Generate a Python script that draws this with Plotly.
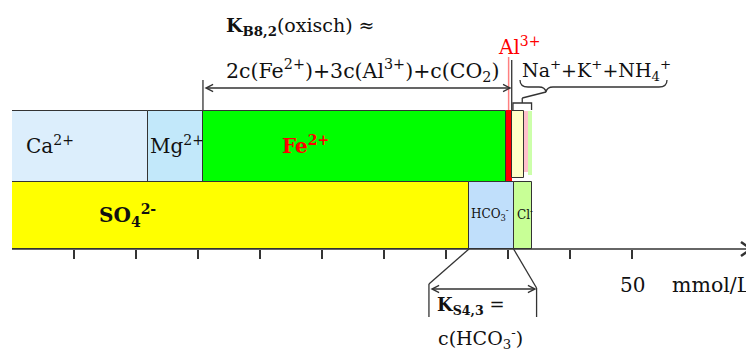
import plotly.graph_objects as go

# ---------------- data (mmol/L) ----------------
cation_names = ["Ca2+", "Mg2+", "Fe2+", "Al3+", "Na+", "K+", "NH4+"]
cation_values = [11.0, 4.4, 24.4, 0.5, 1.0, 0.3, 0.3]
anion_names = ["SO42-", "HCO3-", "Cl-"]
anion_values = [36.85, 3.6, 1.5]
tick_values = [5, 10, 15, 20, 25, 30, 35, 40, 45, 50]
tick_label_value = 50
unit_label = "mmol/L"

# ---------------- styling ----------------
PAGE_W, PAGE_H = 754, 351
OFF = 8                      # default body margin of the html page
W, H = PAGE_W - OFF, PAGE_H - OFF
X0_PX = 12.0
PX_PER = 12.4
FONT = "DejaVu Serif"
DARK = "#333333"

def d(px):
    """page pixel -> data x"""
    return (px - X0_PX) / PX_PER

cation_colors = ["#DCEEFC", "#C2E8FA", "#00FF00", "#FF0000", "#FFFFC8", "#FFC0CB", "#CCFFAA"]
cation_outline = [1, 1, 1, 0, 1, 0, 0]
CAT_ROW = (146.25, 70.5)
cation_geom = [CAT_ROW, CAT_ROW, CAT_ROW, (147.0, 74.0), (144.5, 67.0), (141.5, 61.0), (143.0, 64.0)]
anion_colors = ["#FFFF00", "#C0DFFB", "#C8FF96"]
AN_ROW = (215.25, 67.5)

fig = go.Figure()

cum = 0.0
cat_ends = []
for name, val, col, ol, (yc, hh) in zip(cation_names, cation_values, cation_colors, cation_outline, cation_geom):
    fig.add_trace(go.Bar(orientation="h", x=[val], base=[cum], y=[yc], width=[hh],
                         marker=dict(color=col, line=dict(color=DARK, width=ol)),
                         name=name, showlegend=False, hoverinfo="skip"))
    cum += val
    cat_ends.append(cum)

cum = 0.0
an_ends = []
for name, val, col in zip(anion_names, anion_values, anion_colors):
    fig.add_trace(go.Bar(orientation="h", x=[val], base=[cum], y=[AN_ROW[0]], width=[AN_ROW[1]],
                         marker=dict(color=col, line=dict(color=DARK, width=1)),
                         name=name, showlegend=False, hoverinfo="skip"))
    cum += val
    an_ends.append(cum)

shapes = []
def line(x0, y0, x1, y1, color=DARK, width=1.3):
    shapes.append(dict(type="line", xref="x", yref="y", x0=x0, y0=y0, x1=x1, y1=y1,
                       line=dict(color=color, width=width), layer="above"))

def path(pts, color=DARK, width=1.3):
    s = "M " + " L ".join(f"{x},{y}" for x, y in pts)
    shapes.append(dict(type="path", xref="x", yref="y", path=s,
                       line=dict(color=color, width=width), layer="above"))

# x axis line with arrow head
axis_y = 249
line(0, axis_y, d(750), axis_y, width=1.6)
path([(d(741), axis_y - 7), (d(751), axis_y), (d(741), axis_y + 7)], width=2.5)

# Al3+ thin marker line
al_mid = cat_ends[2] + cation_values[3] / 2
line(al_mid, 57, al_mid, 110, color="#FF8080", width=1.5)

# K_B8,2 bracket (from end of Mg to end of Al)
kb_left = cat_ends[1]
kb_right = cat_ends[3]
line(kb_left, 80, kb_left, 111)
line(kb_right, 60, kb_right, 110)

# Na+K+NH4 brace and small bracket
na_left = cat_ends[3] + 0.1
na_right = cat_ends[6]
mid_small = (na_left + na_right) / 2
shapes.append(dict(type="path", xref="x", yref="y", layer="above",
                   line=dict(color=DARK, width=1.3),
                   path=(f"M {d(520)},80 Q {d(520)},87 {d(528)},87 L {d(539)},87 "
                         f"Q {d(545)},87 {d(546)},92 Q {d(547)},87 {d(553)},87 "
                         f"L {d(659)},87 Q {d(667)},87 {d(667)},80")))
line(d(546), 92, mid_small, 98)
line(mid_small, 98, mid_small, 103)
path([(na_left, 110), (na_left, 103), (na_right, 103), (na_right, 110)])

# K_S4,3 bracket (HCO3 extent)
hco3_l = an_ends[0]
hco3_r = an_ends[1]
ks_l = hco3_l - 40 / PX_PER
ks_r = hco3_r + 23 / PX_PER
line(hco3_l, axis_y, ks_l, 284)
line(hco3_r, axis_y, ks_r, 288)
line(ks_l, 284, ks_l, 317)
line(ks_r, 288, ks_r, 317)

annotations = []
def text(s, x, y, size=20, color="#111111", xanchor="left"):
    annotations.append(dict(text=s, x=x, y=y, xref="x", yref="y", showarrow=False,
                            xanchor=xanchor, yanchor="middle",
                            font=dict(family=FONT, size=size, color=color)))

def darrow(x0, x1, y):
    annotations.append(dict(text="", x=x1, y=y, ax=x0, ay=y, xref="x", yref="y",
                            axref="x", ayref="y", showarrow=True, arrowhead=5,
                            startarrowhead=5, arrowside="end+start", arrowsize=1,
                            arrowwidth=1.4, arrowcolor=DARK, standoff=0, startstandoff=0))

darrow(kb_left, kb_right, 88)
darrow(ks_l, ks_r, 289)

# labels in bars
text("Ca<sup>2+</sup>", d(24), 145)
text("Mg<sup>2+</sup>", d(148), 145)
text("<b>Fe<sup>2+</sup></b>", d(280), 145, color="#FF0000")
text("<b>SO<sub>4</sub><sup>2-</sup></b>", d(97), 215)
text("HCO<sub>3</sub><sup>-</sup>", d(469), 214, size=12)
text("Cl<sup>-</sup>", d(515), 214, size=12)

# upper texts
text("<b>K<sub>B8,2</sub></b>(oxisch) ≈", d(224), 26, size=19)
text("2c(Fe<sup>2+</sup>)+3c(Al<sup>3+</sup>)+c(CO<sub>2</sub>)", d(224), 70, size=20.5)
text("Al<sup>3+</sup>", d(496), 46, color="#FF0000")
text("Na<sup>+</sup>+K<sup>+</sup>+NH<sub>4</sub><sup>+</sup>", d(520), 70, size=19)

# axis labels
text(str(tick_label_value), tick_label_value, 285, xanchor="center")
text(unit_label, d(670), 285, size=20.5)

# lower texts
text("<b>K<sub>S4,3</sub></b> =", d(435), 306, size=18)
text("c(HCO<sub>3</sub><sup>-</sup>)", d(436), 338, size=19)

fig.update_layout(
    width=W, height=H, margin=dict(l=0, r=0, t=0, b=0),
    paper_bgcolor="white", plot_bgcolor="white",
    barmode="overlay", bargap=0,
    shapes=shapes, annotations=annotations,
    xaxis=dict(domain=[(X0_PX - OFF) / W, 1], range=[0, d(PAGE_W)], anchor="free",
               position=1 - (axis_y - OFF) / H, showline=False, showgrid=False, zeroline=False,
               ticks="outside", tickvals=tick_values, ticklen=9, tickwidth=1.5,
               tickcolor=DARK, showticklabels=False, fixedrange=True),
    yaxis=dict(range=[PAGE_H, OFF], visible=False, domain=[0, 1], fixedrange=True),
)

fig.write_html("out.html")
